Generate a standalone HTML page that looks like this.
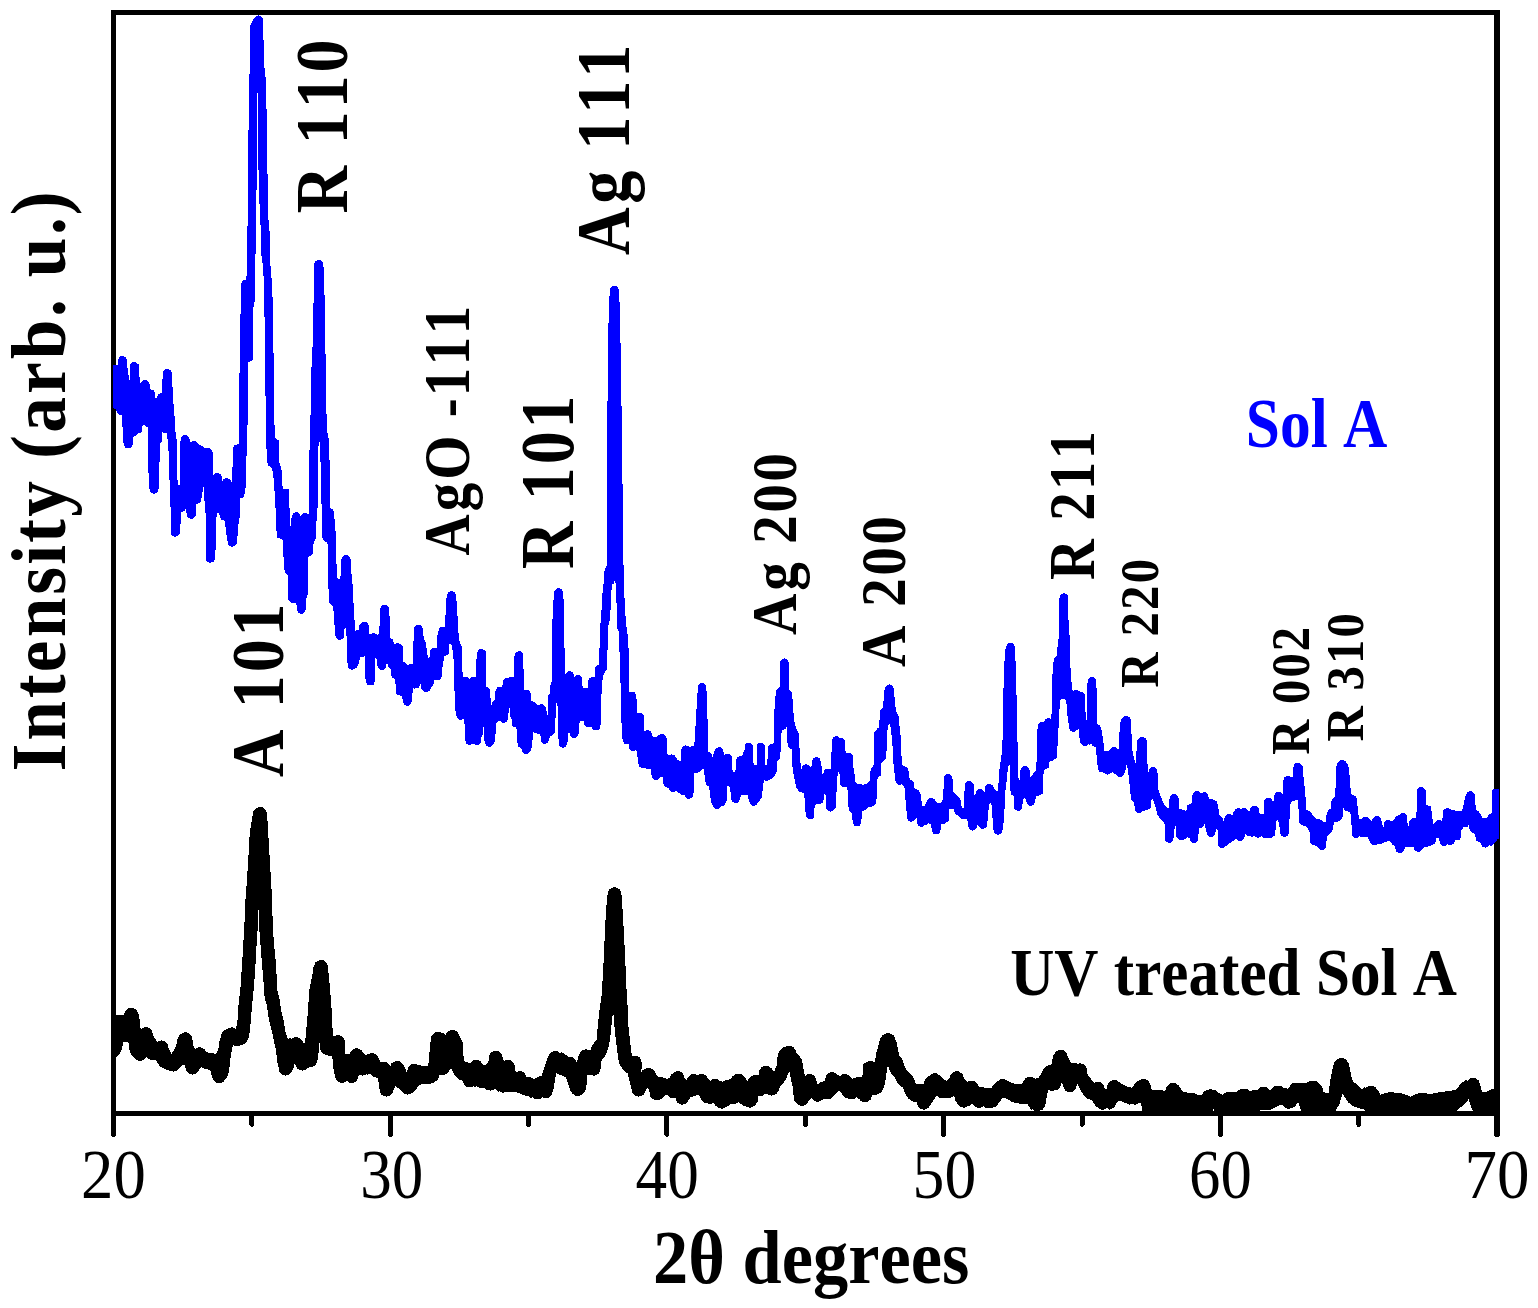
<!DOCTYPE html>
<html lang="en">
<head>
<meta charset="utf-8">
<title>XRD patterns of Sol A and UV treated Sol A</title>
<style>
html,body{margin:0;padding:0;background:#fff;}
body{width:1538px;height:1308px;overflow:hidden;}
svg{display:block;font-family:"Liberation Serif", "DejaVu Serif", serif;}
.curve{fill:none;stroke-linejoin:round;stroke-linecap:round;}
</style>
</head>
<body>
<svg width="1538" height="1308" viewBox="0 0 1538 1308">
<rect x="0" y="0" width="1538" height="1308" fill="#fff"/>
<defs><clipPath id="plotclip"><rect x="113" y="12" width="1386" height="1102"/></clipPath></defs>
<g id="axes" stroke="#000" fill="none" stroke-linecap="round" shape-rendering="crispEdges">
<path d="M111 10H1500V1116H111Z M116 15V1111H1494V15Z" fill="#000" fill-rule="evenodd" stroke="none"/>
<line x1="113.50" y1="1113.5" x2="113.50" y2="1134.3" stroke-width="5"/>
<line x1="390.24" y1="1113.5" x2="390.24" y2="1134.3" stroke-width="5"/>
<line x1="666.98" y1="1113.5" x2="666.98" y2="1134.3" stroke-width="5"/>
<line x1="943.72" y1="1113.5" x2="943.72" y2="1134.3" stroke-width="5"/>
<line x1="1220.46" y1="1113.5" x2="1220.46" y2="1134.3" stroke-width="5"/>
<line x1="1497" y1="1113.5" x2="1497" y2="1133.9" stroke-width="6"/>
<line x1="251.87" y1="1113.5" x2="251.87" y2="1124.3" stroke-width="5"/>
<line x1="528.61" y1="1113.5" x2="528.61" y2="1124.3" stroke-width="5"/>
<line x1="805.35" y1="1113.5" x2="805.35" y2="1124.3" stroke-width="5"/>
<line x1="1082.09" y1="1113.5" x2="1082.09" y2="1124.3" stroke-width="5"/>
<line x1="1358.83" y1="1113.5" x2="1358.83" y2="1124.3" stroke-width="5"/>
</g>
<g id="curves" clip-path="url(#plotclip)" shape-rendering="crispEdges">
<path fill="#0000ff" stroke="none" d="M112.1 365.1 L113.1 365.1 L118.0 364.8 L118.3 359.2 L122.5 360.2 L126.8 358.6 L127.4 367.7 L128.4 368.3 L128.7 384.6 L129.4 384.6 L129.7 372.2 L130.3 364.4 L134.2 366.1 L138.5 364.4 L139.4 375.5 L140.1 383.3 L141.1 383.3 L141.7 381.3 L145.3 384.3 L149.2 382.0 L150.2 389.1 L153.7 390.4 L154.7 392.4 L155.0 397.6 L157.0 397.6 L158.3 394.3 L160.9 392.8 L161.9 392.4 L162.2 383.3 L163.1 371.6 L167.4 373.2 L171.6 371.6 L171.9 385.9 L172.9 387.2 L173.2 398.9 L173.9 410.6 L174.9 419.7 L175.8 437.9 L176.5 439.2 L176.8 479.5 L178.1 480.8 L178.4 484.7 L180.1 484.7 L180.4 441.8 L181.0 436.6 L185.3 439.3 L189.2 437.2 L190.1 441.8 L194.0 445.4 L197.9 443.1 L199.2 445.0 L202.5 446.0 L204.4 447.6 L205.7 448.6 L208.3 452.3 L211.6 450.2 L212.2 467.8 L213.2 475.6 L214.2 474.0 L217.4 477.2 L221.0 474.5 L222.0 480.8 L223.3 480.1 L226.5 482.4 L230.4 480.1 L231.4 481.8 L232.1 480.8 L232.4 471.0 L233.0 447.6 L234.3 445.0 L238.9 444.1 L239.2 396.3 L240.1 330.0 L240.2 395.0 L240.2 314.0 L241.0 313.4 L241.1 283.5 L242.9 280.3 L245.5 279.6 L246.2 276.4 L247.1 275.7 L247.2 226.0 L248.1 225.0 L248.2 160.0 L248.4 140.4 L249.2 74.1 L250.1 72.8 L250.5 24.7 L254.0 18.2 L258.5 19.6 L262.8 19.5 L263.7 45.5 L264.6 70.2 L265.7 78.0 L266.6 111.8 L267.0 130.0 L267.1 160.0 L267.6 176.3 L267.9 219.8 L268.9 220.5 L269.8 236.0 L270.2 266.0 L270.9 266.6 L271.8 283.5 L272.8 303.0 L272.9 330.0 L273.6 356.0 L274.2 414.5 L274.9 438.0 L278.8 440.5 L279.2 462.6 L281.4 467.8 L282.7 488.6 L288.6 489.3 L289.2 499.0 L290.2 527.9 L291.8 516.0 L296.3 516.5 L300.8 516.0 L301.2 517.5 L305.4 517.2 L309.2 513.0 L309.3 474.6 L309.8 415.8 L310.9 415.1 L311.1 367.7 L312.2 367.0 L312.3 347.5 L313.1 346.2 L313.2 303.3 L314.0 302.0 L314.4 263.0 L318.7 264.1 L323.1 263.0 L323.9 270.8 L324.1 294.2 L325.0 294.9 L325.1 354.0 L326.1 354.7 L326.3 413.8 L327.1 414.5 L327.2 431.0 L328.8 439.5 L330.1 477.2 L330.2 507.8 L333.4 509.7 L334.7 520.1 L335.7 533.1 L336.6 566.9 L337.3 578.0 L340.4 580.0 L341.0 559.2 L346.0 559.2 L350.8 559.2 L351.4 572.8 L352.7 585.8 L353.4 601.4 L354.4 617.1 L355.0 630.7 L358.6 630.1 L359.3 625.5 L360.6 623.6 L364.5 626.1 L368.4 624.2 L369.0 634.6 L371.0 633.3 L373.6 637.3 L378.8 633.6 L379.4 630.1 L380.1 608.0 L384.6 609.0 L388.8 607.6 L389.6 617.1 L390.1 637.9 L393.1 639.8 L394.0 643.7 L397.6 647.3 L400.9 644.4 L402.8 646.3 L403.2 661.9 L405.4 662.6 L407.8 664.8 L409.3 664.3 L412.6 664.5 L413.2 646.3 L414.3 628.1 L418.4 629.1 L422.6 627.5 L423.4 635.3 L424.7 640.5 L426.0 643.7 L426.9 650.9 L428.2 658.7 L429.5 656.7 L430.1 650.2 L432.1 648.3 L436.9 647.9 L437.3 635.9 L438.6 630.1 L439.9 627.5 L445.1 626.8 L446.0 601.5 L447.0 593.7 L451.6 595.3 L455.9 593.7 L456.4 599.5 L457.4 613.2 L458.1 629.4 L459.4 640.5 L460.7 645.0 L462.0 646.6 L462.4 671.0 L462.9 676.9 L467.8 677.3 L469.4 679.1 L471.1 677.3 L475.9 676.9 L476.3 661.9 L477.2 651.5 L481.5 653.2 L485.8 651.3 L486.0 674.9 L486.3 686.9 L488.6 687.7 L489.9 689.5 L490.2 697.7 L491.2 698.6 L491.5 705.1 L492.5 702.2 L494.9 699.6 L495.4 691.2 L497.1 687.3 L502.3 686.9 L503.2 680.1 L505.6 678.2 L509.2 677.5 L514.0 676.9 L514.4 656.7 L515.3 653.5 L519.2 655.5 L523.1 653.5 L523.4 657.2 L523.7 688.4 L526.5 693.9 L529.2 691.5 L529.3 702.4 L532.0 705.6 L535.9 704.0 L541.4 708.5 L545.6 707.1 L547.6 714.9 L548.1 696.1 L549.8 693.5 L550.7 683.1 L551.8 681.8 L552.0 629.8 L553.1 607.1 L554.0 590.8 L558.8 592.5 L563.1 590.8 L563.7 601.9 L564.0 646.7 L564.8 648.0 L564.9 674.0 L569.7 675.9 L578.0 679.2 L581.9 676.6 L582.6 687.7 L587.8 687.7 L588.4 679.9 L592.5 681.5 L594.9 676.6 L595.3 666.9 L597.5 664.9 L599.1 664.3 L599.5 648.0 L600.1 627.2 L601.2 615.5 L602.1 599.9 L603.1 584.1 L604.0 583.4 L604.4 571.1 L606.3 566.5 L607.0 565.2 L607.1 401.3 L607.9 400.0 L608.3 331.1 L609.2 299.9 L610.2 288.2 L614.4 290.1 L618.4 288.2 L619.6 302.5 L620.6 346.7 L620.9 405.2 L621.9 405.9 L622.0 483.3 L622.8 484.6 L623.2 565.2 L623.9 565.9 L624.0 597.3 L624.8 598.6 L625.1 615.5 L625.9 616.2 L626.1 626.6 L626.8 627.2 L627.2 633.7 L628.1 634.4 L628.2 648.0 L628.7 648.7 L629.0 690.9 L631.9 695.7 L635.0 693.8 L636.5 699.3 L637.0 711.8 L639.7 716.8 L641.7 716.5 L642.3 724.3 L643.6 725.0 L644.3 731.3 L647.5 734.4 L651.4 732.8 L652.9 736.7 L656.0 737.5 L658.4 735.2 L662.3 738.3 L666.2 737.5 L667.0 753.9 L671.7 758.6 L675.6 757.0 L677.1 759.4 L681.8 761.7 L682.3 747.7 L685.7 749.6 L689.6 746.9 L694.3 745.3 L695.1 733.6 L696.6 707.1 L697.9 686.8 L702.1 687.2 L706.3 686.0 L707.2 707.1 L707.9 733.6 L708.3 751.6 L711.4 753.9 L712.2 757.8 L715.3 749.2 L719.2 751.5 L723.1 750.0 L723.9 753.9 L727.8 761.1 L734.0 772.6 L740.3 760.5 L744.7 749.2 L748.9 755.8 L754.6 764.8 L760.9 764.8 L766.8 764.8 L769.2 746.1 L772.3 748.0 L774.0 741.4 L774.6 704.0 L776.2 689.9 L779.6 686.8 L780.2 665.0 L784.3 665.0 L788.5 665.0 L789.4 689.9 L792.1 693.1 L793.0 705.5 L794.1 721.1 L796.5 728.9 L798.8 733.6 L799.6 749.2 L800.8 768.0 L801.3 769.5 L806.1 768.6 L811.3 767.2 L812.1 761.7 L816.4 761.7 L821.1 761.7 L822.2 774.2 L827.7 773.0 L830.9 768.0 L831.3 757.0 L832.0 740.7 L836.3 741.4 L840.9 742.2 L844.8 743.0 L845.6 751.6 L848.7 756.9 L851.4 756.3 L852.3 764.8 L854.2 769.5 L855.0 781.2 L857.3 783.6 L863.6 784.8 L868.2 782.8 L869.8 780.4 L870.6 769.5 L873.7 764.8 L874.5 732.1 L877.6 728.2 L879.2 727.4 L879.9 710.2 L883.1 707.9 L884.2 689.9 L889.3 689.9 L894.1 689.9 L894.8 702.4 L896.3 711.8 L898.7 716.5 L899.5 725.8 L900.7 736.7 L901.3 749.2 L901.8 764.8 L904.9 766.4 L908.0 768.0 L909.6 778.9 L913.5 782.0 L914.3 788.2 L918.2 789.8 L920.5 793.7 L922.1 805.4 L924.4 806.2 L926.8 801.5 L931.4 802.2 L935.7 801.5 L937.7 803.1 L941.6 802.3 L943.1 799.2 L943.9 778.9 L948.1 778.9 L952.5 778.9 L953.3 791.4 L955.6 794.5 L959.4 797.6 L960.9 800.7 L961.7 807.8 L963.7 808.5 L964.8 785.1 L969.2 785.2 L973.6 784.3 L974.2 794.5 L975.0 796.0 L976.5 791.4 L980.0 793.3 L983.6 790.6 L984.6 792.1 L986.7 785.9 L989.3 788.1 L992.9 786.7 L996.0 790.6 L997.6 790.6 L998.7 781.2 L999.6 768.0 L1000.7 760.2 L1002.3 749.2 L1003.1 713.3 L1003.8 671.2 L1005.4 649.4 L1010.5 648.5 L1015.2 647.8 L1015.9 677.5 L1017.1 711.8 L1017.9 769.5 L1018.7 780.4 L1019.9 780.4 L1020.5 769.5 L1025.2 770.2 L1029.6 769.5 L1030.4 777.3 L1031.9 775.8 L1033.5 772.6 L1036.1 771.1 L1036.6 760.2 L1037.1 732.1 L1038.2 724.3 L1040.5 721.9 L1043.6 721.9 L1045.2 719.6 L1048.6 722.3 L1051.1 719.6 L1051.7 711.8 L1052.2 677.5 L1053.8 658.7 L1056.9 655.6 L1058.0 640.0 L1058.8 638.4 L1059.4 597.9 L1063.9 597.9 L1068.1 597.9 L1068.4 618.2 L1069.8 640.0 L1070.2 660.3 L1070.9 677.5 L1072.5 689.9 L1076.4 694.2 L1081.1 696.2 L1085.0 694.6 L1085.8 721.1 L1086.5 721.1 L1087.0 685.3 L1088.1 679.8 L1092.0 681.4 L1096.2 680.3 L1096.7 691.5 L1097.5 724.3 L1100.1 725.8 L1101.7 730.5 L1102.9 738.3 L1104.5 750.8 L1108.4 751.6 L1110.7 748.5 L1114.2 751.1 L1117.8 748.5 L1118.8 749.2 L1119.8 724.3 L1121.7 718.0 L1126.3 720.2 L1130.5 718.8 L1131.3 730.5 L1132.6 752.4 L1134.9 761.7 L1136.0 764.8 L1136.9 741.4 L1138.0 739.1 L1142.2 741.0 L1146.5 739.9 L1146.9 755.5 L1148.2 772.6 L1149.0 770.3 L1153.2 771.4 L1157.4 770.3 L1158.3 789.8 L1160.7 796.0 L1163.0 802.3 L1166.1 807.0 L1168.5 808.5 L1169.7 797.6 L1174.2 798.3 L1178.6 797.6 L1179.4 808.5 L1184.1 810.1 L1186.4 810.9 L1187.2 805.4 L1190.0 803.8 L1191.7 803.1 L1192.5 794.6 L1196.9 795.4 L1204.2 796.5 L1208.1 795.3 L1208.9 798.5 L1212.8 799.5 L1216.7 801.1 L1218.2 805.5 L1219.0 814.1 L1222.1 817.2 L1223.7 821.1 L1225.3 815.6 L1229.2 818.3 L1233.1 814.8 L1233.8 810.9 L1238.5 812.4 L1244.0 812.4 L1247.9 810.2 L1249.4 811.7 L1250.5 807.8 L1254.6 810.0 L1258.3 807.8 L1259.3 813.3 L1263.5 814.1 L1264.3 801.6 L1268.2 801.9 L1272.8 800.8 L1274.1 801.6 L1274.4 796.1 L1278.6 796.0 L1282.7 793.8 L1283.3 780.5 L1287.7 780.1 L1291.6 777.4 L1292.7 776.6 L1293.1 766.5 L1297.8 766.8 L1302.5 765.7 L1303.3 774.3 L1304.1 783.6 L1305.1 788.3 L1306.1 808.6 L1306.7 810.2 L1309.5 810.9 L1312.6 814.8 L1315.8 818.7 L1320.4 819.5 L1323.6 821.9 L1325.9 822.6 L1326.7 813.3 L1328.2 810.2 L1330.6 808.6 L1331.4 800.8 L1333.7 797.7 L1335.3 796.1 L1336.0 768.0 L1337.6 762.6 L1342.3 764.2 L1347.0 762.6 L1348.5 766.5 L1349.8 777.4 L1350.9 793.0 L1352.4 794.6 L1355.6 796.1 L1357.1 799.2 L1357.9 811.7 L1359.1 818.7 L1361.0 819.5 L1365.4 821.1 L1369.6 818.7 L1371.2 821.1 L1373.5 818.0 L1376.9 820.3 L1380.5 818.0 L1382.1 822.6 L1383.2 828.9 L1384.4 822.6 L1386.0 821.1 L1388.3 824.1 L1392.2 821.1 L1393.5 820.3 L1395.3 817.2 L1398.5 814.8 L1402.8 817.1 L1406.6 815.6 L1407.8 825.8 L1408.3 827.3 L1409.4 821.1 L1412.5 818.0 L1416.4 818.0 L1416.9 789.9 L1421.3 791.3 L1425.6 789.9 L1426.3 804.7 L1430.6 806.3 L1431.9 813.3 L1433.0 824.2 L1435.3 821.9 L1439.2 824.1 L1442.3 821.1 L1443.1 810.2 L1447.5 812.4 L1451.7 809.8 L1455.6 810.6 L1461.8 810.9 L1463.4 805.5 L1465.8 794.6 L1470.4 795.4 L1474.6 793.8 L1475.9 810.2 L1479.0 811.7 L1480.9 814.8 L1482.1 818.0 L1486.8 818.0 L1488.4 814.8 L1491.5 813.3 L1492.3 789.9 L1494.3 789.1 L1499.3 789.1 L1499.3 838.2 L1497.0 839.8 L1494.3 843.7 L1491.5 846.0 L1485.3 843.4 L1482.1 846.0 L1480.6 842.9 L1476.2 840.6 L1475.1 834.3 L1471.2 832.0 L1469.7 830.4 L1468.9 824.2 L1467.3 827.0 L1463.4 827.3 L1461.5 830.4 L1460.3 839.8 L1454.8 840.6 L1454.0 843.7 L1450.1 845.3 L1447.8 844.5 L1443.9 841.8 L1440.0 842.1 L1438.4 837.5 L1436.1 838.2 L1435.3 843.7 L1431.4 845.3 L1427.5 846.8 L1423.6 847.6 L1422.1 849.9 L1418.2 847.6 L1414.9 850.7 L1413.3 846.8 L1409.4 847.3 L1405.5 846.8 L1403.9 850.7 L1399.7 848.8 L1396.1 850.7 L1395.0 846.0 L1392.5 844.5 L1390.7 842.1 L1389.1 840.6 L1385.2 842.1 L1381.3 843.7 L1378.2 843.7 L1374.3 841.0 L1370.4 842.9 L1368.8 839.8 L1367.3 836.7 L1364.9 836.7 L1361.0 837.5 L1356.3 833.7 L1352.9 835.1 L1351.7 827.3 L1350.9 814.8 L1349.3 811.7 L1345.4 810.9 L1343.8 808.6 L1343.1 806.3 L1342.6 816.4 L1340.7 820.3 L1337.6 821.9 L1334.5 821.9 L1333.2 825.8 L1332.1 832.0 L1329.0 834.3 L1327.0 836.7 L1325.9 847.6 L1322.0 845.7 L1318.1 847.6 L1316.5 845.7 L1312.6 845.3 L1310.3 842.9 L1309.5 832.0 L1308.0 828.9 L1304.8 825.8 L1300.9 825.0 L1299.4 822.6 L1298.3 805.5 L1297.3 799.2 L1294.7 801.1 L1291.1 801.6 L1290.0 805.5 L1289.2 827.3 L1288.5 834.3 L1284.6 832.7 L1280.7 833.6 L1279.1 824.2 L1277.5 819.5 L1276.0 821.1 L1275.2 835.1 L1272.1 837.5 L1267.4 837.5 L1262.7 837.5 L1258.0 833.5 L1254.9 835.9 L1251.8 836.7 L1247.1 835.9 L1245.5 833.6 L1244.0 839.0 L1240.1 836.6 L1236.2 838.2 L1233.8 840.6 L1229.9 842.9 L1226.0 846.0 L1222.1 843.7 L1218.2 843.7 L1217.5 830.4 L1216.2 828.9 L1215.1 834.3 L1211.2 832.7 L1207.3 834.3 L1205.7 830.4 L1205.0 822.6 L1202.6 827.3 L1199.0 828.1 L1197.9 840.6 L1194.0 838.7 L1190.1 840.6 L1190.0 838.2 L1187.2 837.4 L1184.1 839.7 L1179.4 840.5 L1176.3 836.6 L1175.5 825.7 L1174.7 827.3 L1173.1 841.3 L1169.2 838.6 L1165.3 838.2 L1164.6 824.1 L1163.0 821.0 L1160.7 819.5 L1157.5 814.8 L1155.2 805.4 L1152.9 799.2 L1151.6 799.2 L1150.5 808.5 L1146.9 810.1 L1142.7 810.9 L1139.1 808.6 L1134.9 808.5 L1134.1 802.3 L1131.0 799.2 L1129.5 783.6 L1127.9 769.5 L1126.3 764.8 L1125.6 769.5 L1124.0 775.0 L1120.1 772.8 L1114.6 774.2 L1112.6 771.9 L1111.5 773.4 L1107.6 770.3 L1103.7 772.6 L1099.8 771.9 L1097.9 769.5 L1096.7 757.0 L1095.9 746.9 L1092.3 746.1 L1091.2 743.8 L1089.7 744.9 L1085.0 741.9 L1081.1 743.8 L1079.8 741.4 L1078.7 728.9 L1077.2 729.7 L1073.3 727.5 L1069.4 728.9 L1067.3 714.9 L1066.3 700.9 L1063.9 698.5 L1060.0 700.1 L1058.5 728.2 L1057.7 743.0 L1056.9 757.8 L1053.0 760.5 L1049.6 760.9 L1048.6 768.0 L1045.2 769.5 L1043.6 771.1 L1042.8 793.7 L1039.7 795.3 L1035.8 796.0 L1035.0 803.1 L1030.7 801.6 L1026.5 802.3 L1024.9 797.6 L1023.0 799.2 L1022.1 807.8 L1018.2 806.6 L1014.8 807.0 L1014.0 796.0 L1011.2 794.5 L1010.1 788.2 L1009.6 764.8 L1008.0 766.4 L1007.0 777.3 L1005.4 791.4 L1004.3 813.2 L1003.4 824.1 L1002.3 831.2 L998.1 830.5 L993.4 830.4 L992.4 816.3 L991.4 803.1 L989.0 803.8 L987.8 819.5 L986.7 826.5 L982.8 824.6 L979.6 827.3 L977.8 824.9 L976.5 827.3 L972.6 826.4 L968.4 825.7 L967.2 819.5 L961.7 818.7 L958.6 816.3 L954.9 813.2 L954.7 814.0 L954.1 808.5 L949.4 809.3 L948.6 821.0 L944.7 823.8 L941.3 824.1 L940.3 831.9 L936.1 830.3 L931.9 830.4 L930.7 824.1 L928.3 823.4 L926.0 824.9 L921.3 822.5 L917.4 824.1 L916.6 817.9 L915.1 819.5 L911.2 817.5 L907.3 817.9 L905.7 803.8 L904.9 788.2 L901.8 784.3 L898.7 785.1 L895.6 782.0 L894.5 772.6 L893.2 761.7 L892.4 743.0 L891.3 733.6 L890.1 723.5 L887.8 725.0 L887.0 739.9 L886.2 758.6 L883.1 761.7 L881.5 763.3 L880.7 775.8 L877.6 777.3 L876.8 796.0 L876.0 803.8 L872.1 806.7 L868.2 807.0 L865.9 809.3 L862.0 811.7 L861.2 823.4 L857.0 822.2 L852.6 821.0 L851.9 813.2 L848.7 810.9 L848.0 796.0 L847.2 786.7 L843.3 787.5 L840.2 785.1 L839.4 772.6 L838.3 771.9 L837.3 777.3 L836.3 796.0 L835.5 808.5 L830.5 807.4 L826.4 808.5 L825.8 797.6 L824.9 789.8 L824.2 797.6 L823.0 802.3 L819.1 804.6 L816.0 803.8 L814.4 808.5 L813.6 816.3 L810.2 815.2 L805.8 814.8 L805.0 808.5 L804.3 792.9 L799.6 792.1 L796.5 788.2 L794.1 777.3 L792.6 769.5 L791.8 749.2 L788.7 747.7 L787.4 743.0 L786.8 725.8 L785.5 728.9 L781.6 730.5 L780.9 746.1 L780.1 758.6 L777.0 760.9 L776.5 772.6 L773.8 777.3 L767.6 780.9 L764.5 780.4 L762.9 785.1 L762.1 797.6 L758.2 802.3 L753.6 801.5 L748.9 800.7 L747.3 794.5 L743.4 795.3 L741.1 794.5 L740.0 799.9 L735.6 798.7 L731.7 797.6 L729.4 786.7 L727.0 785.9 L726.6 800.7 L724.7 805.4 L720.0 807.0 L716.9 804.6 L712.2 805.4 L710.7 799.2 L709.1 786.7 L706.0 785.1 L703.6 769.5 L702.1 768.7 L700.5 771.1 L697.4 773.0 L694.3 772.6 L693.8 791.4 L692.7 796.0 L688.8 794.6 L684.9 795.3 L681.0 794.5 L677.9 792.1 L673.2 787.9 L668.5 788.2 L663.8 785.9 L662.3 775.8 L660.7 777.3 L656.0 775.7 L651.7 775.8 L650.6 769.5 L645.1 768.3 L639.7 767.2 L638.1 763.3 L637.0 751.6 L633.4 746.9 L630.8 748.5 L629.5 744.6 L624.1 743.8 L622.2 738.3 L621.2 715.6 L620.3 672.7 L619.4 649.3 L619.0 632.4 L618.1 629.8 L617.1 628.5 L617.0 603.8 L616.1 602.5 L615.7 593.4 L615.4 577.6 L615.1 578.5 L614.2 583.0 L611.8 585.0 L611.2 596.0 L610.7 604.5 L610.6 610.3 L609.9 611.6 L609.6 620.7 L608.6 621.4 L608.2 638.3 L607.3 653.2 L606.9 669.6 L603.8 673.6 L602.2 682.1 L601.4 696.2 L600.7 725.0 L596.0 726.3 L592.1 727.4 L587.4 727.4 L584.3 725.0 L583.5 721.1 L579.6 721.1 L578.8 734.4 L574.1 733.7 L570.2 735.2 L568.7 730.5 L567.9 739.9 L567.1 744.6 L562.9 743.4 L559.0 744.6 L558.0 733.6 L557.7 708.7 L557.0 699.3 L555.9 708.7 L554.9 732.8 L552.3 735.2 L549.9 736.7 L548.7 741.4 L544.8 739.5 L540.9 740.7 L540.3 733.6 L537.5 733.6 L533.1 732.1 L532.0 746.1 L530.4 751.6 L526.2 749.7 L522.6 751.6 L521.1 748.5 L517.9 746.1 L517.2 741.4 L516.4 727.4 L512.7 726.9 L511.8 723.7 L511.4 717.8 L510.5 717.2 L510.1 708.1 L508.8 708.1 L508.2 717.8 L506.9 721.1 L503.6 718.5 L500.4 721.1 L498.4 721.1 L496.2 723.0 L495.8 733.4 L494.9 734.1 L494.5 741.9 L493.2 745.1 L489.3 742.6 L486.0 745.1 L484.5 740.6 L484.1 726.9 L483.2 726.9 L482.4 736.7 L481.5 737.3 L480.6 743.2 L476.9 740.6 L473.0 744.1 L469.8 740.6 L466.5 743.8 L465.5 741.2 L465.2 724.3 L464.2 723.7 L463.7 719.1 L460.7 715.5 L458.1 718.5 L456.4 715.2 L455.5 710.7 L455.1 691.8 L454.2 691.2 L453.5 658.7 L452.5 649.6 L452.2 645.7 L450.7 644.0 L449.4 644.4 L449.0 653.5 L447.7 654.8 L445.1 655.7 L443.8 656.7 L443.1 666.5 L442.1 667.1 L441.6 676.9 L439.9 679.5 L436.0 679.9 L434.0 679.5 L433.4 685.3 L430.8 687.9 L429.5 690.8 L426.2 687.8 L422.6 690.5 L421.0 687.9 L420.8 684.7 L420.0 684.0 L419.1 687.9 L414.5 688.6 L413.2 687.9 L413.0 692.9 L411.9 693.1 L411.3 704.2 L407.4 701.6 L403.1 703.5 L402.6 699.0 L401.5 695.7 L397.6 695.1 L396.3 693.8 L396.1 684.0 L395.0 683.4 L394.4 678.2 L392.7 677.8 L391.4 676.2 L391.1 669.7 L390.1 668.4 L388.3 666.5 L387.9 663.9 L385.9 664.5 L385.3 669.1 L382.0 665.7 L379.4 669.1 L377.5 666.5 L377.1 660.0 L375.8 658.7 L374.9 658.0 L374.5 682.1 L373.6 684.7 L370.1 681.3 L366.4 683.4 L366.2 679.5 L365.1 678.8 L364.9 655.4 L363.8 656.7 L359.9 657.4 L359.3 661.9 L358.0 665.8 L356.0 668.4 L352.1 665.5 L348.5 667.8 L348.2 663.2 L347.3 662.6 L347.2 636.6 L346.3 635.9 L345.6 628.1 L344.2 629.4 L344.0 636.6 L343.0 638.5 L339.7 635.5 L335.6 635.2 L334.5 624.8 L333.2 606.6 L329.3 602.7 L328.3 585.8 L328.0 552.0 L327.4 542.3 L324.1 541.0 L322.2 537.7 L321.4 498.0 L320.4 457.7 L319.5 442.1 L318.2 447.3 L317.6 506.5 L316.3 523.4 L315.7 539.0 L313.7 542.9 L312.4 554.6 L308.0 557.2 L307.9 594.9 L306.6 596.2 L305.9 610.5 L301.4 609.5 L297.1 610.5 L296.2 602.7 L291.6 602.7 L288.4 600.1 L287.5 574.8 L284.6 571.5 L283.4 555.5 L282.6 539.6 L277.4 537.7 L276.1 528.6 L275.5 507.8 L274.6 494.1 L274.2 479.2 L272.9 476.9 L272.3 468.5 L267.7 465.2 L266.4 447.0 L265.2 376.8 L265.1 330.0 L264.6 326.4 L264.4 303.7 L263.6 303.0 L263.5 276.4 L262.8 275.7 L262.4 256.9 L261.5 256.2 L261.4 225.7 L260.5 225.0 L260.1 204.2 L259.2 203.6 L258.5 170.0 L257.8 93.0 L257.3 93.0 L257.0 140.0 L256.9 160.0 L256.8 189.9 L256.0 190.6 L255.9 253.0 L255.0 254.3 L254.6 301.7 L253.6 302.4 L253.3 318.6 L252.9 330.0 L252.8 359.9 L248.2 362.5 L247.6 422.3 L246.7 449.6 L245.6 487.5 L244.3 495.4 L243.0 497.8 L240.1 498.0 L239.7 516.2 L239.1 523.4 L238.4 524.0 L238.0 535.7 L237.1 536.4 L236.9 543.8 L235.2 545.9 L232.2 542.5 L229.3 546.1 L227.8 544.2 L227.0 535.7 L226.1 534.4 L225.4 526.0 L224.4 520.8 L220.9 519.5 L219.6 515.6 L218.7 513.0 L217.2 513.0 L217.0 516.9 L216.1 517.5 L215.7 549.4 L215.0 550.0 L214.8 559.8 L213.7 561.7 L210.1 558.5 L207.9 562.0 L206.6 560.4 L206.2 522.7 L205.7 522.1 L205.3 501.3 L204.4 500.6 L204.0 487.6 L203.3 487.0 L202.7 487.6 L202.3 496.1 L201.4 498.0 L200.7 501.3 L199.2 503.2 L196.2 503.9 L195.8 515.6 L194.9 516.9 L191.4 514.6 L187.5 516.9 L186.4 513.0 L186.2 509.7 L185.4 509.1 L184.5 511.0 L181.2 512.3 L180.9 523.4 L180.2 524.0 L179.9 533.1 L178.6 535.1 L175.0 532.5 L172.1 535.1 L170.8 531.8 L170.5 507.1 L169.8 505.8 L169.3 461.3 L168.7 460.6 L168.3 439.2 L167.4 438.5 L166.7 433.0 L163.5 432.7 L161.9 432.0 L161.5 441.8 L160.2 443.7 L159.9 461.9 L158.9 462.6 L158.6 489.2 L157.6 491.8 L154.1 489.5 L150.5 491.8 L149.5 488.6 L149.2 473.0 L148.2 472.3 L147.9 427.2 L146.6 426.8 L144.6 425.2 L143.3 425.2 L142.0 426.8 L141.4 432.7 L138.1 433.3 L135.5 435.9 L132.9 437.2 L132.6 444.4 L132.0 446.3 L128.1 444.3 L124.5 446.3 L123.5 443.1 L123.2 427.5 L122.2 426.2 L121.9 415.1 L118.6 414.5 L117.0 412.5 L116.0 409.3 L113.1 408.0 L112.1 408.0Z"/>
<path class="curve" stroke="#0000ff" stroke-width="8.5" d="M122.5 360.2 L122.5 409.8 M134.2 366.1 L134.2 429.0 M145.3 384.3 L145.3 420.9 M167.4 373.2 L167.4 428.3 M185.3 439.3 L185.3 504.8 M194.0 445.4 L194.0 499.2 M208.3 452.3 L208.3 487.6 M217.4 477.2 L217.4 508.7 M226.5 482.4 L226.5 515.8 M258.5 19.6 L258.5 88.8 M296.3 516.5 L296.3 598.5 M305.4 517.2 L305.4 552.0 M318.7 264.1 L318.7 437.9 M346.0 559.1 L346.0 623.9 M364.5 626.1 L364.5 651.2 M373.6 637.3 L373.6 653.8 M384.6 609.0 L384.6 659.6 M397.6 647.3 L397.6 673.7 M418.4 629.1 L418.4 679.8 M451.6 595.3 L451.6 639.7 M481.5 653.2 L481.5 722.7 M519.2 655.5 L519.2 723.0 M526.5 693.9 L526.5 745.4 M532.0 705.6 L532.0 727.8 M541.4 708.5 L541.4 729.3 M558.8 592.5 L558.8 695.0 M569.7 675.4 L569.7 726.3 M578.0 679.2 L578.0 716.9 M592.5 681.5 L592.5 721.8 M614.4 290.1 L614.4 573.4 M631.9 695.7 L631.9 740.1 M639.7 716.8 L639.7 745.2 M647.5 734.4 L647.5 763.6 M662.3 738.3 L662.3 771.5 M671.7 758.6 L671.7 783.4 M685.7 749.6 L685.7 790.3 M702.1 687.2 L702.1 764.5 M719.2 751.5 L719.2 800.3 M128.1 444.3 L128.1 388.8 M154.1 489.5 L154.1 401.8 M175.0 532.5 L175.0 488.9 M191.4 514.6 L191.4 449.6 M210.1 558.5 L210.1 479.8 M232.2 542.5 L232.2 486.1 M301.4 609.5 L301.4 521.8 M339.7 635.5 L339.7 584.2 M352.1 665.5 L352.1 635.0 M370.1 681.3 L370.1 641.6 M382.0 665.7 L382.0 638.5 M407.4 701.6 L407.4 669.0 M426.2 687.8 L426.2 662.9 M460.7 715.5 L460.7 681.3 M469.8 740.6 L469.8 683.3 M476.9 740.6 L476.9 681.4 M489.3 742.6 L489.3 709.3 M503.6 718.5 L503.6 691.4 M526.2 749.7 L526.2 708.0 M544.8 739.5 L544.8 719.2 M562.9 743.4 L562.9 679.1 M574.1 733.7 L574.1 683.5 M596.0 726.3 L596.0 685.7 M633.4 746.9 L633.4 717.3 M656.0 775.7 L656.0 741.8 M673.2 787.9 L673.2 763.8 M688.8 794.6 L688.8 753.8 M716.9 804.6 L716.9 760.9 M727.8 757.9 L727.8 781.7 M740.3 760.5 L740.3 790.2 M748.9 746.9 L748.9 790.2 M760.9 746.9 L760.9 776.2 M772.3 748.0 L772.3 767.5 M784.3 662.7 L784.3 721.6 M806.1 768.6 L806.1 788.3 M816.4 761.3 L816.4 799.4 M827.7 773.0 L827.7 785.6 M836.3 740.5 L836.3 767.6 M840.9 742.2 L840.9 767.6 M848.7 756.9 L848.7 782.4 M889.3 688.7 L889.3 719.2 M931.4 802.2 L931.4 819.1 M948.1 778.1 L948.1 804.6 M735.6 798.8 L735.6 776.9 M753.6 801.5 L753.6 769.1 M810.2 815.2 L810.2 772.9 M830.5 807.4 L830.5 777.6 M857.0 822.2 L857.0 788.6 M911.2 817.5 L911.2 792.9 M921.3 822.5 L921.3 810.4 M936.1 830.3 L936.1 807.3 M969.2 785.2 L969.2 814.9 M980.0 793.3 L980.0 820.3 M989.3 788.1 L989.3 798.8 M1010.5 647.1 L1010.5 760.6 M1025.2 770.2 L1025.2 793.4 M1048.6 722.3 L1048.6 756.2 M1063.9 597.6 L1063.9 694.3 M1076.4 694.2 L1076.4 723.3 M1081.1 696.2 L1081.1 724.7 M1092.0 681.4 L1092.0 739.4 M1114.2 751.1 L1114.2 767.6 M1126.3 720.2 L1126.3 760.6 M1142.2 741.0 L1142.2 804.4 M1153.2 771.4 L1153.2 794.9 M1174.2 798.3 L1174.2 821.4 M972.6 826.4 L972.6 800.3 M982.8 824.6 L982.8 797.5 M998.1 830.5 L998.1 794.8 M1018.2 806.6 L1018.2 784.7 M1030.7 801.6 L1030.7 781.6 M1073.3 727.5 L1073.3 698.9 M1085.0 741.9 L1085.0 725.4 M1107.6 770.3 L1107.6 755.8 M1120.1 772.8 L1120.1 754.1 M1139.1 808.6 L1139.1 769.1 M1169.2 838.6 L1169.2 812.8 M1196.9 795.4 L1196.9 823.4 M1204.2 796.5 L1204.2 818.4 M1229.2 818.3 L1229.2 836.6 M1238.5 812.4 L1238.5 832.4 M1244.0 812.4 L1244.0 829.3 M1254.6 810.0 L1254.6 829.3 M1268.2 801.9 L1268.2 833.0 M1278.6 796.0 L1278.6 815.3 M1287.7 780.1 L1287.7 797.2 M1297.8 766.8 L1297.8 795.0 M1342.3 764.2 L1342.3 802.0 M1365.4 821.1 L1365.4 832.4 M1376.9 820.3 L1376.9 836.8 M1388.3 824.1 L1388.3 836.3 M1402.8 817.1 L1402.8 842.6 M1194.0 838.7 L1194.0 808.2 M1211.2 832.7 L1211.2 804.9 M1222.1 843.7 L1222.1 825.3 M1240.1 836.6 L1240.1 816.6 M1258.0 833.5 L1258.0 818.1 M1284.6 832.7 L1284.6 799.3 M1322.0 845.7 L1322.0 826.9 M1356.3 833.7 L1356.3 823.6 M1374.3 841.0 L1374.3 825.3 M1399.7 848.8 L1399.7 821.3 M1421.3 791.3 L1421.3 843.0 M1439.2 824.1 L1439.2 833.2 M1447.5 812.4 L1447.5 837.5 M1470.4 795.4 L1470.4 820.0 M1418.2 847.6 L1418.2 822.2 M1443.9 841.8 L1443.9 827.9 M1485.3 843.4 L1485.3 822.2"/>
<path fill="#000" stroke="none" d="M109.9 1015.5 L115.7 1015.5 L123.5 1015.1 L125.5 1010.8 L131.3 1014.6 L137.2 1010.8 L139.1 1015.5 L140.5 1027.8 L146.0 1033.9 L150.8 1030.3 L153.8 1036.5 L156.1 1040.1 L161.6 1047.2 L166.4 1043.8 L169.0 1049.2 L171.3 1054.1 L173.3 1051.2 L176.2 1045.3 L177.6 1038.9 L180.1 1034.0 L185.4 1039.0 L190.8 1035.0 L192.8 1041.4 L193.8 1047.7 L199.6 1054.0 L204.5 1050.2 L208.4 1053.1 L216.2 1053.7 L218.1 1050.2 L219.7 1040.4 L222.0 1032.6 L226.9 1028.3 L231.8 1034.1 L236.1 1028.2 L237.6 1019.4 L238.6 1003.8 L240.6 986.2 L241.9 966.7 L243.1 947.2 L244.5 921.8 L245.4 900.4 L247.0 878.9 L248.4 857.4 L249.7 834.0 L251.7 820.4 L253.6 810.6 L260.1 813.8 L266.5 811.6 L267.9 824.3 L268.8 843.8 L269.8 859.4 L270.8 876.9 L271.8 894.5 L272.4 912.1 L273.1 931.6 L274.3 947.2 L275.7 960.9 L276.7 976.5 L277.6 992.1 L279.6 999.5 L281.5 1012.2 L283.5 1020.0 L285.4 1031.7 L288.0 1038.9 L290.3 1038.1 L296.2 1043.9 L302.0 1039.5 L304.0 1044.3 L304.9 1042.4 L305.9 1034.6 L307.9 1011.2 L309.4 989.7 L311.8 978.0 L313.7 966.3 L315.7 962.0 L321.1 966.8 L326.4 962.8 L328.3 970.6 L329.3 980.4 L330.3 992.1 L331.3 1003.8 L332.2 1019.4 L332.8 1035.0 L338.1 1041.9 L343.0 1038.9 L344.5 1044.3 L345.3 1054.1 L349.8 1053.7 L351.7 1050.2 L356.6 1055.0 L361.5 1050.6 L365.4 1055.1 L368.3 1054.1 L372.2 1059.9 L377.1 1056.0 L380.0 1060.9 L383.9 1068.6 L387.8 1065.8 L389.4 1069.7 L390.8 1064.8 L392.0 1062.4 L397.4 1067.8 L402.7 1063.4 L405.2 1068.2 L406.6 1072.1 L408.5 1067.3 L414.4 1070.5 L419.3 1064.9 L422.2 1066.3 L428.0 1065.7 L429.0 1059.5 L430.0 1045.8 L431.4 1036.0 L438.4 1038.5 L443.6 1033.1 L446.2 1036.0 L447.5 1032.1 L452.4 1036.6 L457.3 1032.1 L460.2 1037.0 L462.6 1041.9 L463.1 1051.7 L464.1 1061.4 L468.0 1062.4 L470.4 1063.4 L476.2 1066.6 L481.3 1062.4 L483.6 1065.3 L486.6 1064.3 L488.5 1061.4 L489.5 1054.6 L495.7 1057.4 L501.6 1053.6 L503.1 1059.5 L508.0 1066.6 L512.9 1062.4 L514.8 1070.2 L519.7 1077.9 L523.6 1074.1 L525.6 1077.0 L530.4 1077.4 L534.3 1079.0 L538.2 1076.6 L541.8 1076.0 L543.1 1071.2 L545.1 1065.3 L547.6 1057.5 L549.9 1053.2 L555.4 1057.8 L561.7 1052.0 L565.6 1054.6 L568.5 1056.5 L572.4 1056.5 L575.3 1059.5 L576.9 1062.4 L578.2 1056.5 L581.2 1051.7 L586.0 1056.1 L590.9 1049.3 L591.9 1045.8 L594.8 1041.9 L596.8 1039.9 L597.7 1026.3 L599.7 1008.7 L601.6 995.1 L603.0 973.6 L604.2 948.3 L605.0 928.8 L606.1 909.3 L607.5 894.6 L609.4 889.4 L614.7 894.0 L620.2 889.8 L621.7 895.6 L622.5 909.3 L623.7 928.8 L624.7 948.3 L625.6 967.8 L626.4 987.3 L627.6 1006.8 L628.4 1026.3 L629.9 1039.9 L631.9 1055.6 L634.8 1062.3 L638.1 1058.5 L639.7 1065.3 L640.7 1073.1 L642.6 1070.2 L648.5 1074.6 L654.3 1070.2 L656.8 1075.1 L658.8 1077.4 L663.1 1077.4 L667.0 1079.0 L669.9 1078.0 L670.9 1074.1 L677.7 1077.9 L682.9 1073.1 L684.9 1079.0 L686.8 1079.9 L688.8 1076.0 L693.7 1080.8 L701.5 1080.8 L706.3 1076.6 L709.3 1079.9 L715.1 1085.7 L720.0 1080.9 L722.5 1081.9 L726.8 1079.9 L731.1 1079.0 L732.7 1075.4 L738.5 1080.4 L744.0 1076.0 L747.3 1080.9 L749.2 1078.0 L753.1 1075.1 L759.0 1074.7 L760.0 1070.2 L765.8 1072.6 L771.3 1068.2 L774.0 1072.1 L776.6 1065.3 L777.9 1053.6 L780.5 1049.7 L784.4 1046.8 L789.2 1052.5 L794.1 1047.8 L796.1 1052.6 L799.0 1055.6 L801.9 1059.5 L802.9 1065.3 L804.4 1074.1 L809.7 1080.8 L814.6 1076.0 L816.5 1080.9 L817.5 1084.4 L821.4 1081.9 L825.3 1080.9 L826.7 1076.0 L832.1 1078.9 L837.0 1074.1 L844.8 1080.8 L849.7 1076.0 L852.0 1079.0 L856.5 1077.4 L862.4 1077.0 L863.0 1065.3 L864.3 1062.4 L870.2 1067.8 L875.1 1061.0 L876.0 1053.6 L878.0 1047.8 L879.9 1039.0 L882.9 1034.5 L888.3 1039.9 L893.6 1035.1 L896.5 1041.9 L898.1 1049.7 L899.4 1055.6 L902.4 1059.5 L904.3 1065.3 L907.2 1071.2 L911.1 1074.1 L914.1 1079.0 L916.0 1083.8 L923.4 1084.4 L924.8 1079.9 L928.7 1076.0 L934.6 1079.9 L939.4 1075.1 L943.3 1079.0 L946.3 1080.9 L949.2 1079.0 L950.2 1075.1 L956.6 1077.9 L962.4 1073.5 L964.4 1079.0 L966.7 1080.9 L971.6 1087.3 L974.9 1082.9 L979.8 1086.8 L984.6 1087.7 L991.5 1087.7 L994.4 1083.8 L997.3 1080.9 L1002.8 1085.7 L1008.0 1080.9 L1011.9 1083.3 L1017.8 1083.8 L1022.3 1083.8 L1024.2 1079.9 L1030.1 1083.4 L1035.9 1078.6 L1038.3 1078.0 L1041.2 1074.1 L1043.1 1069.2 L1047.0 1065.7 L1051.5 1064.3 L1052.9 1056.5 L1055.8 1051.7 L1060.7 1056.5 L1065.6 1051.7 L1067.5 1055.6 L1069.5 1059.5 L1071.4 1063.4 L1076.3 1063.0 L1080.2 1070.1 L1084.1 1065.3 L1086.1 1070.2 L1088.0 1075.1 L1090.9 1079.0 L1093.9 1081.9 L1097.8 1088.6 L1101.7 1083.8 L1104.6 1087.7 L1106.2 1090.7 L1107.5 1084.8 L1109.5 1081.9 L1114.3 1086.7 L1119.2 1081.9 L1123.1 1084.8 L1128.0 1086.8 L1131.9 1087.7 L1134.8 1083.8 L1137.8 1080.9 L1143.6 1085.7 L1148.5 1080.9 L1150.4 1084.8 L1151.8 1089.7 L1154.3 1090.3 L1160.2 1090.3 L1165.1 1090.7 L1167.0 1085.8 L1172.9 1089.6 L1178.3 1084.8 L1180.7 1088.7 L1183.0 1092.2 L1194.6 1093.1 L1197.2 1094.9 L1201.8 1094.9 L1203.7 1092.0 L1206.3 1090.1 L1210.9 1089.2 L1215.4 1090.1 L1218.7 1092.7 L1222.6 1094.9 L1225.8 1092.3 L1235.6 1092.3 L1240.1 1089.4 L1247.9 1089.2 L1250.5 1091.4 L1253.1 1090.1 L1257.7 1090.1 L1260.3 1087.5 L1266.8 1087.1 L1270.0 1090.1 L1272.0 1088.8 L1273.9 1086.2 L1281.1 1085.9 L1284.3 1088.1 L1288.2 1088.8 L1292.1 1083.2 L1306.4 1082.9 L1310.4 1081.0 L1316.9 1081.0 L1322.1 1086.2 L1323.4 1092.0 L1328.6 1093.3 L1330.5 1079.0 L1332.5 1068.6 L1334.4 1062.1 L1337.5 1059.1 L1341.4 1064.6 L1345.3 1059.1 L1348.2 1062.4 L1349.6 1067.3 L1351.1 1075.1 L1353.1 1081.9 L1357.0 1084.4 L1359.9 1087.7 L1361.9 1089.7 L1364.8 1087.2 L1370.6 1092.5 L1375.5 1087.2 L1378.1 1090.7 L1380.4 1094.6 L1383.3 1093.6 L1389.2 1092.2 L1396.0 1092.6 L1402.8 1093.6 L1407.7 1095.5 L1410.6 1096.9 L1414.5 1094.6 L1419.4 1093.0 L1425.3 1093.0 L1430.1 1094.6 L1433.1 1093.6 L1438.9 1092.2 L1444.8 1091.6 L1450.6 1090.7 L1455.5 1089.7 L1458.4 1086.8 L1461.3 1082.9 L1466.2 1079.9 L1473.0 1084.7 L1478.3 1079.9 L1479.9 1083.8 L1481.4 1089.7 L1482.8 1092.6 L1486.7 1091.6 L1491.6 1089.1 L1493.9 1088.7 L1500.4 1088.7 L1500.0 1114.0 L1474.4 1114.0 L1472.1 1109.2 L1470.1 1104.3 L1468.5 1099.4 L1464.3 1104.3 L1458.4 1109.2 L1451.6 1114.0 L1368.7 1114.0 L1364.8 1109.8 L1358.9 1108.2 L1353.1 1106.2 L1348.2 1102.3 L1344.3 1096.5 L1342.3 1093.6 L1339.4 1104.3 L1333.6 1114.0 L1302.3 1114.0 L1299.9 1107.6 L1298.9 1103.1 L1297.3 1103.1 L1295.4 1106.3 L1291.5 1108.3 L1288.2 1108.9 L1284.3 1107.0 L1282.4 1104.4 L1279.8 1105.0 L1275.2 1107.6 L1271.3 1109.6 L1264.2 1109.6 L1260.9 1110.2 L1255.1 1114.0 L1216.1 1114.0 L1212.8 1107.9 L1212.2 1114.0 L1145.0 1114.0 L1142.6 1113.1 L1141.3 1104.3 L1139.7 1102.4 L1134.8 1098.0 L1129.9 1104.7 L1126.0 1103.3 L1122.1 1101.4 L1118.2 1101.4 L1116.3 1103.3 L1114.3 1107.2 L1109.5 1109.8 L1102.6 1103.0 L1096.8 1107.2 L1094.4 1104.3 L1091.9 1100.0 L1087.0 1098.5 L1084.1 1095.5 L1081.2 1091.6 L1078.8 1086.8 L1077.3 1083.8 L1076.3 1086.8 L1073.4 1090.7 L1069.9 1085.5 L1066.6 1090.7 L1064.0 1087.7 L1062.7 1083.8 L1061.7 1082.9 L1060.1 1087.2 L1056.8 1090.3 L1051.9 1090.7 L1048.0 1090.3 L1046.5 1098.5 L1045.1 1106.3 L1042.2 1110.2 L1037.3 1104.4 L1031.4 1110.2 L1029.5 1107.2 L1027.5 1104.3 L1022.7 1103.9 L1016.8 1103.3 L1011.9 1102.0 L1008.0 1099.4 L1004.7 1097.5 L1002.2 1098.5 L999.3 1102.4 L996.3 1106.3 L991.5 1108.2 L985.6 1108.2 L978.8 1101.1 L973.9 1106.3 L972.6 1102.4 L969.7 1105.9 L963.8 1100.9 L958.0 1105.3 L955.4 1100.4 L954.1 1095.5 L950.2 1098.1 L943.3 1098.5 L939.4 1098.1 L936.5 1095.5 L934.6 1098.5 L931.6 1103.3 L928.7 1107.2 L923.8 1103.0 L918.9 1106.3 L916.4 1102.0 L912.1 1101.4 L908.2 1098.5 L905.3 1093.6 L902.8 1087.7 L900.4 1085.8 L897.5 1082.9 L894.6 1077.0 L891.6 1074.1 L889.7 1070.2 L888.3 1066.3 L887.2 1067.3 L885.8 1079.0 L883.8 1087.7 L880.9 1092.6 L877.0 1094.6 L872.7 1094.6 L870.2 1100.4 L864.9 1095.6 L859.1 1099.4 L856.5 1097.5 L851.7 1092.7 L846.8 1098.5 L842.9 1095.5 L840.3 1091.6 L838.0 1091.1 L835.1 1094.6 L831.2 1098.5 L825.3 1098.5 L822.4 1100.0 L817.5 1095.0 L813.6 1100.4 L811.1 1098.1 L809.7 1099.4 L806.8 1104.3 L801.9 1099.1 L797.0 1103.9 L794.1 1100.4 L792.7 1086.8 L790.8 1079.0 L789.6 1072.1 L788.3 1073.1 L786.3 1079.0 L783.4 1082.9 L780.5 1085.8 L778.5 1090.7 L776.0 1094.6 L771.7 1088.8 L767.8 1094.6 L765.8 1093.6 L761.9 1096.1 L758.4 1096.5 L757.6 1101.4 L755.1 1105.3 L749.8 1100.9 L744.4 1106.3 L740.9 1103.9 L738.5 1102.4 L734.6 1103.9 L730.3 1103.9 L727.8 1106.7 L721.9 1101.9 L716.1 1106.3 L714.1 1103.9 L710.2 1097.2 L705.4 1103.3 L701.5 1100.4 L699.5 1096.5 L697.6 1094.6 L694.6 1096.1 L690.7 1096.9 L687.8 1101.4 L682.2 1098.0 L676.7 1101.4 L675.2 1097.5 L672.8 1098.5 L669.9 1097.5 L667.0 1094.6 L665.0 1095.5 L661.1 1099.4 L656.8 1093.7 L653.3 1099.4 L650.4 1096.5 L649.0 1089.7 L647.1 1087.7 L645.5 1090.7 L642.6 1094.6 L638.7 1089.8 L634.8 1095.5 L632.3 1092.6 L630.9 1086.8 L628.9 1079.0 L627.6 1073.1 L625.0 1072.1 L622.1 1068.2 L619.2 1063.4 L617.8 1055.6 L616.7 1045.8 L615.3 1036.0 L614.3 1024.3 L613.3 1013.0 L612.8 1013.6 L611.4 1026.3 L610.4 1036.0 L608.9 1045.8 L606.9 1051.7 L604.6 1056.5 L601.6 1059.5 L600.7 1069.2 L597.7 1073.1 L593.8 1068.9 L590.9 1075.1 L587.4 1075.1 L586.6 1084.8 L585.1 1091.6 L582.1 1094.6 L577.6 1089.2 L573.4 1094.6 L570.4 1090.7 L567.9 1082.9 L565.6 1077.0 L560.7 1075.1 L556.2 1073.1 L554.8 1080.9 L553.5 1088.7 L551.9 1094.6 L549.0 1097.5 L544.1 1098.5 L537.3 1092.7 L531.4 1098.1 L527.5 1095.9 L522.6 1095.0 L517.8 1092.6 L512.9 1092.2 L507.0 1091.6 L503.1 1085.9 L498.8 1092.2 L496.3 1090.3 L490.5 1083.9 L486.6 1089.7 L483.6 1087.7 L480.7 1088.3 L476.8 1086.4 L473.9 1086.8 L469.6 1080.6 L465.1 1084.4 L463.7 1080.9 L459.8 1079.9 L456.3 1077.0 L453.4 1073.1 L451.4 1068.8 L450.1 1069.6 L447.5 1073.5 L443.6 1075.1 L439.7 1074.7 L437.8 1079.9 L433.9 1082.5 L430.0 1083.8 L424.1 1084.2 L418.9 1084.8 L416.3 1089.7 L413.0 1093.0 L407.6 1087.8 L402.7 1092.6 L398.8 1088.7 L395.5 1085.8 L392.9 1090.7 L391.3 1094.1 L386.3 1089.9 L381.0 1093.1 L379.1 1087.3 L378.1 1078.5 L373.2 1076.5 L370.7 1073.6 L367.4 1074.6 L362.5 1068.8 L359.0 1074.6 L356.6 1080.4 L351.7 1076.2 L345.9 1081.8 L342.0 1076.2 L338.1 1081.4 L335.2 1077.5 L333.6 1069.7 L332.2 1056.4 L326.4 1055.1 L322.5 1053.1 L320.5 1050.2 L320.0 1043.4 L319.2 1043.4 L318.6 1052.1 L317.2 1061.9 L314.7 1066.2 L308.8 1067.4 L306.9 1068.7 L302.4 1063.9 L298.1 1069.3 L296.2 1065.8 L294.6 1063.8 L293.8 1067.8 L291.3 1072.6 L285.4 1068.8 L279.6 1071.7 L277.6 1063.8 L275.7 1048.2 L273.7 1040.4 L271.8 1030.7 L268.8 1019.0 L266.9 1005.3 L264.6 997.5 L263.4 980.0 L262.0 964.4 L260.7 946.8 L259.1 927.3 L258.7 910.1 L258.1 910.1 L257.5 931.2 L256.2 950.7 L255.2 970.2 L253.6 989.7 L251.7 1009.2 L250.3 1026.8 L249.0 1036.5 L246.4 1042.4 L242.5 1044.7 L237.6 1046.3 L232.8 1045.3 L230.8 1056.0 L228.9 1071.7 L226.9 1077.5 L223.0 1081.8 L219.1 1076.6 L216.2 1082.4 L213.3 1079.5 L211.3 1074.6 L210.3 1069.7 L206.4 1069.3 L201.6 1067.4 L199.6 1068.7 L196.7 1072.6 L192.4 1067.8 L188.5 1073.2 L185.9 1070.1 L185.0 1065.4 L183.0 1064.8 L180.1 1067.8 L177.2 1070.7 L173.3 1064.9 L169.4 1070.7 L164.5 1068.7 L160.6 1066.8 L157.7 1063.5 L156.1 1059.9 L152.8 1053.6 L148.9 1059.6 L146.4 1057.0 L144.0 1059.0 L140.1 1054.2 L135.2 1059.0 L131.3 1055.1 L129.4 1050.2 L128.4 1042.0 L123.5 1042.4 L121.6 1050.2 L118.7 1055.1 L115.7 1058.0 L109.9 1058.0Z"/>
<path class="curve" stroke="#000" stroke-width="13.5" d="M131.3 1014.6 L131.3 1035.3 M146.0 1033.9 L146.0 1047.0 M161.6 1047.2 L161.6 1050.7 M185.4 1039.0 L185.4 1058.1 M199.6 1054.0 L199.6 1060.6 M231.8 1034.1 L231.8 1038.6 M260.1 813.8 L260.1 903.4 M296.2 1043.9 L296.2 1057.1 M321.1 966.8 L321.1 1036.6 M338.1 1041.9 L338.1 1049.5 M356.6 1055.0 L356.6 1062.1 M372.2 1059.9 L372.2 1065.6 M383.9 1068.6 L383.9 1071.4 M397.4 1067.8 L397.4 1079.0 M414.4 1070.5 L414.4 1077.8 M438.4 1038.5 L438.4 1067.7 M452.4 1036.6 L452.4 1062.1 M476.2 1066.6 L476.2 1073.8 M495.7 1057.4 L495.7 1077.2 M508.0 1066.6 L508.0 1079.1 M519.7 1077.9 L519.7 1085.5 M555.4 1057.8 L555.4 1066.4 M586.0 1056.1 L586.0 1064.4 M614.7 894.0 L614.7 1006.3 M634.8 1062.3 L634.8 1068.4 M648.5 1074.6 L648.5 1081.0 M677.7 1077.9 L677.7 1090.7 M693.7 1080.8 L693.7 1087.8 M701.5 1080.8 L701.5 1087.8 M715.1 1085.7 L715.1 1090.4 M738.5 1080.4 L738.5 1095.6 M765.8 1072.6 L765.8 1082.0 M789.2 1052.5 L789.2 1065.4 M809.7 1080.8 L809.7 1089.7 M832.1 1078.9 L832.1 1084.3 M844.8 1080.8 L844.8 1084.3 M870.2 1067.8 L870.2 1087.8 M888.3 1039.9 L888.3 1059.5 M934.6 1079.9 L934.6 1088.8 M956.6 1077.9 L956.6 1088.8 M971.6 1087.3 L971.6 1094.8 M1002.8 1085.7 L1002.8 1090.7 M1030.1 1083.4 L1030.1 1097.2 M1060.7 1056.5 L1060.7 1076.1 M1080.2 1070.1 L1080.2 1077.1 M1097.8 1088.6 L1097.8 1093.0 M1114.3 1086.7 L1114.3 1094.6 M1143.6 1085.7 L1143.6 1093.0 M1172.9 1089.6 L1172.9 1107.2 M1341.4 1064.6 L1341.4 1086.8 M1370.6 1092.5 L1370.6 1102.8 M1473.0 1084.7 L1473.0 1092.7 M140.1 1054.2 L140.1 1040.7 M152.8 1053.6 L152.8 1051.3 M173.3 1064.9 L173.3 1060.8 M192.4 1067.8 L192.4 1060.3 M219.1 1076.6 L219.1 1060.5 M285.4 1068.8 L285.4 1046.7 M302.4 1063.9 L302.4 1051.1 M342.0 1076.2 L342.0 1060.8 M351.7 1076.2 L351.7 1061.7 M362.5 1068.8 L362.5 1062.2 M386.3 1089.9 L386.3 1076.5 M407.6 1087.8 L407.6 1078.9 M469.6 1080.6 L469.6 1073.3 M490.5 1083.9 L490.5 1072.0 M503.1 1085.9 L503.1 1073.3 M537.3 1092.7 L537.3 1085.7 M577.6 1089.2 L577.6 1069.1 M593.8 1068.9 L593.8 1061.4 M638.7 1089.8 L638.7 1079.9 M656.8 1093.7 L656.8 1084.4 M682.2 1098.0 L682.2 1086.7 M710.2 1097.2 L710.2 1092.5 M721.9 1101.9 L721.9 1092.4 M749.8 1100.9 L749.8 1087.7 M771.7 1088.8 L771.7 1079.4 M801.9 1099.1 L801.9 1086.2 M817.5 1095.0 L817.5 1091.2 M851.7 1092.7 L851.7 1087.5 M864.9 1095.6 L864.9 1084.0 M923.8 1103.0 L923.8 1091.2 M963.8 1100.9 L963.8 1092.6 M978.8 1101.1 L978.8 1094.5 M1037.3 1104.4 L1037.3 1089.7 M1069.9 1085.5 L1069.9 1070.3 M1102.6 1103.0 L1102.6 1097.4 M1134.8 1098.0 L1134.8 1094.5"/>
</g>
<g id="labels">
<g transform="translate(64.80,772.79) rotate(-90) scale(0.7764,0.7830)"><text transform="scale(0.92,1)" x="1.69 44.72 104.20 140.88 189.61 249.34 291.15 321.59 358.51 411.77 439.31 476.23 530.34 579.07 638.19 665.36 693.87 752.99 780.52" y="0" font-size="100" font-weight="bold" fill="#000" xml:space="preserve">Intensity (arb. u.)</text></g>
<g transform="translate(347.10,215.47) rotate(-90) scale(0.7181,0.7415)"><text transform="scale(0.92,1)" x="3.14 79.58 107.84 162.19 216.54" y="0" font-size="100" font-weight="bold" fill="#000" xml:space="preserve">R 110</text></g>
<g transform="translate(629.40,257.32) rotate(-90) scale(0.7206,0.7515)"><text transform="scale(0.92,1)" x="3.14 80.67 133.93 162.19 216.54 270.89" y="0" font-size="100" font-weight="bold" fill="#000" xml:space="preserve">Ag 111</text></g>
<g transform="translate(469.40,557.17) rotate(-90) scale(0.6186,0.6485)"><text transform="scale(0.92,1)" x="3.14 80.67 136.23 218.48 246.01 282.94 337.28 391.63" y="0" font-size="100" font-weight="bold" fill="#000" xml:space="preserve">AgO -111</text></g>
<g transform="translate(573.00,571.16) rotate(-90) scale(0.7159,0.7615)"><text transform="scale(0.92,1)" x="3.14 79.58 107.84 162.19 216.54" y="0" font-size="100" font-weight="bold" fill="#000" xml:space="preserve">R 101</text></g>
<g transform="translate(283.10,779.41) rotate(-90) scale(0.7177,0.7485)"><text transform="scale(0.92,1)" x="3.14 79.58 107.84 162.19 216.54" y="0" font-size="100" font-weight="bold" fill="#000" xml:space="preserve">A 101</text></g>
<g transform="translate(796.00,636.88) rotate(-90) scale(0.6225,0.6303)"><text transform="scale(0.92,1)" x="3.14 80.67 133.93 162.19 216.54 270.89" y="0" font-size="100" font-weight="bold" fill="#000" xml:space="preserve">Ag 200</text></g>
<g transform="translate(905.40,668.78) rotate(-90) scale(0.6231,0.6409)"><text transform="scale(0.92,1)" x="3.14 79.58 107.84 162.19 216.54" y="0" font-size="100" font-weight="bold" fill="#000" xml:space="preserve">A 200</text></g>
<g transform="translate(1094.20,581.86) rotate(-90) scale(0.6152,0.6462)"><text transform="scale(0.92,1)" x="3.14 79.58 107.84 162.19 216.54" y="0" font-size="100" font-weight="bold" fill="#000" xml:space="preserve">R 211</text></g>
<g transform="translate(1158.00,689.33) rotate(-90) scale(0.5319,0.5400)"><text transform="scale(0.92,1)" x="3.14 79.58 107.84 162.19 216.54" y="0" font-size="100" font-weight="bold" fill="#000" xml:space="preserve">R 220</text></g>
<g transform="translate(1309.10,756.21) rotate(-90) scale(0.5272,0.5400)"><text transform="scale(0.92,1)" x="3.14 79.58 107.84 162.19 216.54" y="0" font-size="100" font-weight="bold" fill="#000" xml:space="preserve">R 002</text></g>
<g transform="translate(1363.00,743.12) rotate(-90) scale(0.5307,0.5369)"><text transform="scale(0.92,1)" x="3.14 79.58 107.84 162.19 216.54" y="0" font-size="100" font-weight="bold" fill="#000" xml:space="preserve">R 310</text></g>
<g transform="translate(1245.83,447.00) scale(0.6142,0.6895)"><text transform="scale(1.0,1)" x="0.00 55.62 105.62 133.40 158.40" y="0" font-size="100" font-weight="bold" fill="#0000ff" xml:space="preserve">Sol A</text></g>
<g transform="translate(1010.17,994.90) scale(0.6117,0.6788)"><text transform="scale(1.0,1)" x="0.00 72.22 144.43 169.43 202.73 247.12 291.50 341.50 374.80 419.19 474.80 499.80 555.42 605.42 633.20 658.20" y="0" font-size="100" font-weight="bold" fill="#000" xml:space="preserve">UV treated Sol A</text></g>
<g transform="translate(653.08,1282.80) scale(0.7038,0.7667)"><text transform="scale(1.0,1)" x="0.00 50.00 102.20 127.20 182.81 227.20 277.20 321.58 365.97 410.35" y="0" font-size="100" font-weight="bold" fill="#000" xml:space="preserve">2θ degrees</text></g>
<g transform="translate(81.11,1197.90) scale(0.6476,0.6902)"><text transform="scale(1.0,1)" x="0.00 50.00" y="0" font-size="100" font-weight="normal" fill="#000" xml:space="preserve">20</text></g>
<g transform="translate(360.16,1197.90) scale(0.6304,0.6902)"><text transform="scale(1.0,1)" x="0.00 50.00" y="0" font-size="100" font-weight="normal" fill="#000" xml:space="preserve">30</text></g>
<g transform="translate(635.55,1197.90) scale(0.6326,0.6902)"><text transform="scale(1.0,1)" x="0.00 50.00" y="0" font-size="100" font-weight="normal" fill="#000" xml:space="preserve">40</text></g>
<g transform="translate(912.59,1197.90) scale(0.6374,0.6902)"><text transform="scale(1.0,1)" x="0.00 50.00" y="0" font-size="100" font-weight="normal" fill="#000" xml:space="preserve">50</text></g>
<g transform="translate(1189.09,1197.90) scale(0.6270,0.6902)"><text transform="scale(1.0,1)" x="0.00 50.00" y="0" font-size="100" font-weight="normal" fill="#000" xml:space="preserve">60</text></g>
<g transform="translate(1464.58,1197.90) scale(0.6500,0.6902)"><text transform="scale(1.0,1)" x="0.00 50.00" y="0" font-size="100" font-weight="normal" fill="#000" xml:space="preserve">70</text></g>
</g>
</svg>
</body>
</html>
